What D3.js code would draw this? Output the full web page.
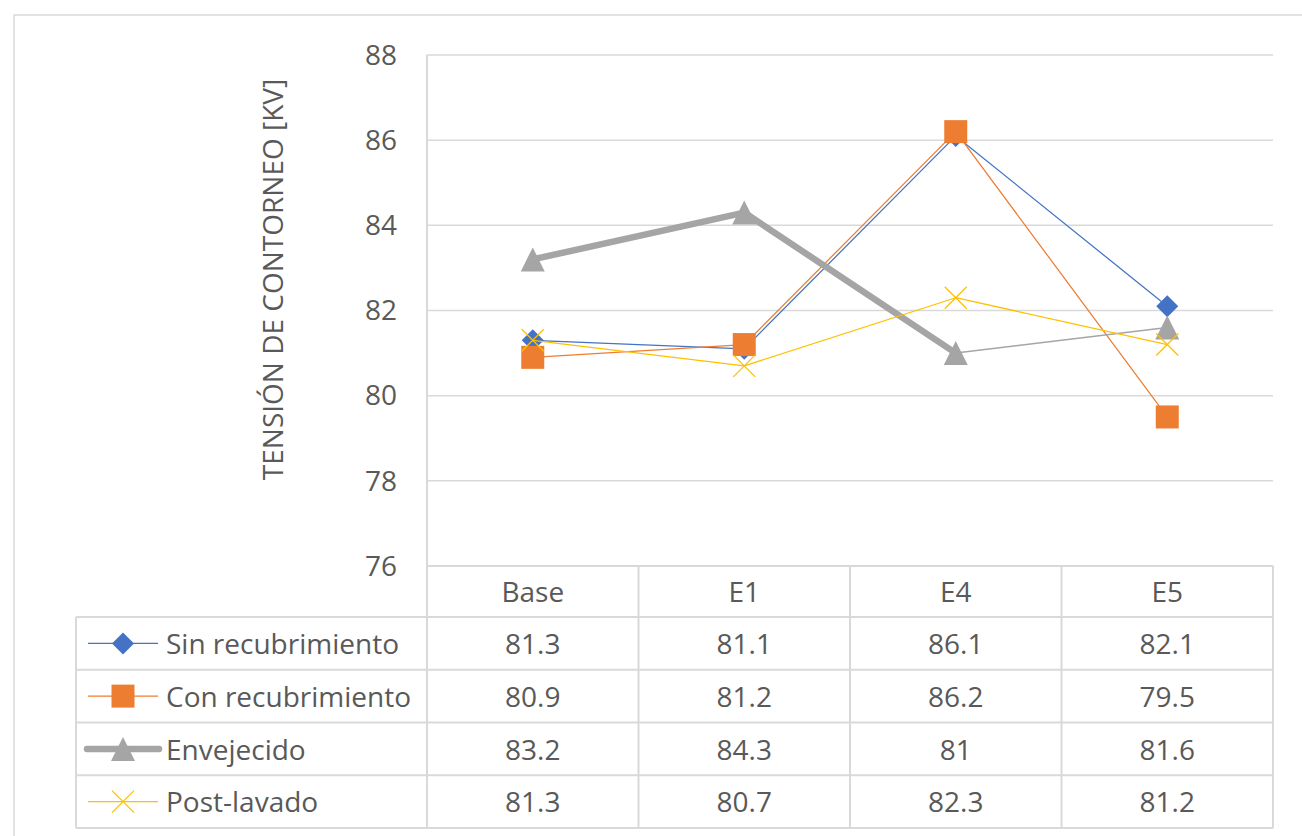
<!DOCTYPE html>
<html>
<head>
<meta charset="utf-8">
<script src="https://cdn.jsdelivr.net/npm/d3@7"></script>
<style>
  html, body { margin: 0; padding: 0; background: #fff; }
  svg { display: block; }
  text { font-family: "Open Sans", "Noto Sans", sans-serif; fill: #595959; }
</style>
</head>
<body>
<svg id="chart" width="1302" height="836"></svg>
<script>
// Flashover voltage per test stage
const categories = ["Base", "E1", "E4", "E5"];
const seriesNames = ["Sin recubrimiento", "Con recubrimiento", "Envejecido", "Post-lavado"];
const sinRecubrimiento = [81.3, 81.1, 86.1, 82.1];
const conRecubrimiento = [80.9, 81.2, 86.2, 79.5];
const envejecido = [83.2, 84.3, 81, 81.6];
const postLavado = [81.3, 80.7, 82.3, 81.2];
const tableLabels = [["81.3", "81.1", "86.1", "82.1"], ["80.9", "81.2", "86.2", "79.5"], ["83.2", "84.3", "81", "81.6"], ["81.3", "80.7", "82.3", "81.2"]];
const yTicks = [76, 78, 80, 82, 84, 86, 88];
const yTitle = "TENSIÓN DE CONTORNEO [KV]";

const seriesValues = [sinRecubrimiento, conRecubrimiento, envejecido, postLavado];
const styles = [
  { color: "#4472C4", marker: "diamond", widths: [1.25, 1.25, 1.25] },
  { color: "#ED7D31", marker: "square",  widths: [1.25, 1.25, 1.25] },
  { color: "#A5A5A5", marker: "triangle", widths: [6.5, 6.5, 1.5] },
  { color: "#FFC000", marker: "x", widths: [1.25, 1.25, 1.25] }
];

const svg = d3.select("#chart");
const grid = "#d9d9d9";

const plot = { left: 427, right: 1273, top: 55, bottom: 566 };
const x = d3.scaleBand().domain(categories).range([plot.left, plot.right]);
const y = d3.scaleLinear().domain([76, 88]).range([plot.bottom, plot.top]);

// outer frame
svg.append("rect").attr("x", 14).attr("y", 15).attr("width", 1320).attr("height", 860)
  .attr("fill", "none").attr("stroke", grid).attr("stroke-width", 1.5);

// horizontal gridlines
svg.append("g").selectAll("line").data(yTicks).join("line")
  .attr("x1", plot.left).attr("x2", plot.right)
  .attr("y1", d => y(d)).attr("y2", d => y(d))
  .attr("stroke", grid).attr("stroke-width", 1.5);

// y tick labels
svg.append("g").selectAll("text").data(yTicks).join("text")
  .attr("x", 397).attr("y", d => y(d)).attr("dy", "0.35em")
  .attr("text-anchor", "end").attr("font-size", 28).text(d => d);

// y axis title
svg.append("text")
  .attr("transform", `translate(283, ${(plot.top + plot.bottom) / 2 - 31}) rotate(-90)`)
  .attr("text-anchor", "middle").attr("font-size", 28).text(yTitle);

// data table geometry
const headerH = 51, rowH = 52.75;
const tableLeft = 76;
const rowTop = i => plot.bottom + headerH + i * rowH;
const tableBottom = rowTop(seriesNames.length);

const lines = svg.append("g").attr("stroke", grid).attr("stroke-width", 2);
// row separators
d3.range(seriesNames.length + 1).forEach(i => {
  lines.append("line").attr("x1", tableLeft).attr("x2", plot.right)
    .attr("y1", rowTop(i)).attr("y2", rowTop(i));
});
// column separators
categories.forEach(c => {
  lines.append("line").attr("x1", x(c)).attr("x2", x(c))
    .attr("y1", c === categories[0] ? plot.top : plot.bottom).attr("y2", tableBottom);
});
lines.append("line").attr("x1", plot.right).attr("x2", plot.right).attr("y1", plot.bottom).attr("y2", tableBottom);
lines.append("line").attr("x1", tableLeft).attr("x2", tableLeft).attr("y1", rowTop(0)).attr("y2", tableBottom);
lines.append("line").attr("x1", plot.left).attr("x2", plot.right).attr("y1", plot.bottom).attr("y2", plot.bottom);

// header
svg.append("g").selectAll("text").data(categories).join("text")
  .attr("x", d => x(d) + x.bandwidth() / 2).attr("y", plot.bottom + headerH / 2 + 1)
  .attr("dy", "0.35em").attr("text-anchor", "middle").attr("font-size", 28).text(d => d);

// value cells
tableLabels.forEach((row, i) => {
  svg.append("g").selectAll("text").data(row).join("text")
    .attr("x", (d, j) => x(categories[j]) + x.bandwidth() / 2)
    .attr("y", rowTop(i) + rowH / 2 + 1).attr("dy", "0.35em")
    .attr("text-anchor", "middle").attr("font-size", 28).text(d => d);
});

// marker drawing
function drawMarker(g, type, color, cx, cy) {
  if (type === "diamond") {
    const r = 11;
    g.append("path").attr("d", `M${cx},${cy - r}L${cx + r},${cy}L${cx},${cy + r}L${cx - r},${cy}Z`).attr("fill", color);
  } else if (type === "square") {
    const h = 11.5;
    g.append("rect").attr("x", cx - h).attr("y", cy - h).attr("width", 2 * h).attr("height", 2 * h).attr("fill", color);
  } else if (type === "triangle") {
    const w = 12, h = 12;
    g.append("path").attr("d", `M${cx},${cy - h}L${cx + w},${cy + h}L${cx - w},${cy + h}Z`).attr("fill", color);
  } else {
    const r = 11;
    g.append("path").attr("d", `M${cx - r},${cy - r}L${cx + r},${cy + r}M${cx - r},${cy + r}L${cx + r},${cy - r}`)
      .attr("stroke", color).attr("stroke-width", 1.25).attr("fill", "none");
  }
}

// series lines and markers
seriesValues.forEach((vals, s) => {
  const st = styles[s];
  const g = svg.append("g");
  const pts = vals.map((v, i) => [x(categories[i]) + x.bandwidth() / 2, y(v)]);
  // thick consecutive segments joined into one path
  let i = 0;
  while (i < pts.length - 1) {
    let j = i;
    while (j + 1 < pts.length - 1 && st.widths[j + 1] === st.widths[i]) j++;
    g.append("path").datum(pts.slice(i, j + 2)).attr("d", d3.line())
      .attr("fill", "none").attr("stroke", st.color).attr("stroke-width", st.widths[i])
      .attr("stroke-linejoin", "round").attr("stroke-linecap", "round");
    i = j + 1;
  }
  pts.forEach(p => drawMarker(g, st.marker, st.color, p[0], p[1]));
});

// legend keys and names in the table
seriesNames.forEach((name, s) => {
  const st = styles[s];
  const cy = rowTop(s) + rowH / 2;
  const g = svg.append("g");
  const w = st.widths[0];
  g.append("line").attr("x1", w > 2 ? 87 : 88).attr("x2", w > 2 ? 159 : 158)
    .attr("y1", cy).attr("y2", cy).attr("stroke", st.color).attr("stroke-width", w)
    .attr("stroke-linecap", w > 2 ? "round" : "butt");
  drawMarker(g, st.marker, st.color, 123, cy);
  g.append("text").attr("x", 166).attr("y", cy + 1).attr("dy", "0.35em")
    .attr("font-size", 28).text(name);
});
</script>
</body>
</html>
